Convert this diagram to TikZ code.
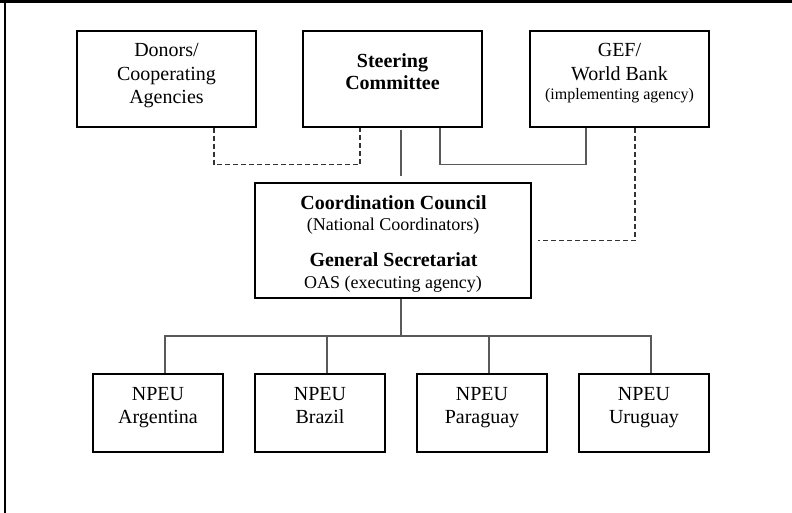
\documentclass[tikz,border=0pt]{standalone}
\usepackage{fontspec}
\setmainfont{Liberation Serif}
\begin{document}
\begin{tikzpicture}[x=1pt,y=-1pt,
  box/.style={draw=black, line width=1.7pt, rectangle, inner sep=0pt},
  topbox/.style={box, minimum width=179pt, minimum height=96pt},
  npeubox/.style={box, minimum width=130pt, minimum height=78pt},
  lbl/.style={anchor=base, inner sep=0pt, font=\fontsize{20}{24}\selectfont},
  lblb/.style={lbl, font=\fontsize{20}{24}\selectfont\bfseries},
  lbls/.style={lbl, font=\fontsize{16}{19}\selectfont},
  lblm/.style={lbl, font=\fontsize{18}{21}\selectfont},
  conn/.style={draw=black!65, line width=1.3pt},
  dconn/.style={draw=black!80, line width=1.2pt, dash pattern=on 5pt off 3pt}]
\useasboundingbox (0,0) rectangle (792,513);
% frame (top and left only)
\draw[line width=3pt] (0,1.5) -- (792,1.5);
\draw[line width=2.5pt] (5,0) -- (5,513);
% top boxes
\node[topbox] (donors) at (166.5,79) {};
\node[topbox] (steer) at (392.5,79) {};
\node[topbox] (gef) at (619.5,79) {};
\node[lbl] (d1) at (166.5,57) {Donors/};
\node[lbl] (d2) at (166.5,80.5) {Cooperating};
\node[lbl] (d3) at (166.5,104) {Agencies};
\node[lblb] (s1) at (392.5,68) {Steering};
\node[lblb] (s2) at (392.5,90) {Committee};
\node[lbl] (g1) at (619.5,57) {GEF/};
\node[lbl] (g2) at (619.5,80.5) {World Bank};
\node[lbls] (g3) at (619.5,100) {(implementing agency)};
% coordination box
\node[box, minimum width=276pt, minimum height=115pt] (coord) at (393,240.5) {};
\node[lblb] (c1) at (393.5,209) {Coordination Council};
\node[lblm] (c2) at (393,230.5) {(National Coordinators)};
\node[lblb] (c3) at (393.5,266) {General Secretariat};
\node[lblm] (c4) at (393,288) {OAS (executing agency)};
% NPEU boxes
\node[npeubox] (arg) at (158,413) {};
\node[npeubox] (bra) at (320,413) {};
\node[npeubox] (par) at (482,413) {};
\node[npeubox] (uru) at (644,413) {};
\foreach \n/\c/\x in {arg/Argentina/158, bra/Brazil/320, par/Paraguay/482, uru/Uruguay/644}{
  \node[lbl] (\n t1) at (\x,400) {NPEU};
  \node[lbl] (\n t2) at (\x,423) {\c};
}
% connectors
\draw[dconn] ([xshift=47.5pt]donors.south) -- ++(0,37) -| ([xshift=-32.5pt]steer.south);
\draw[conn] ([xshift=47.5pt]steer.south) -- ++(0,37) -| ([xshift=-33.5pt]gef.south);
\draw[conn, shorten <=2pt, shorten >=6pt] ([xshift=8.5pt]steer.south) -- ([xshift=8.5pt]steer.south |- coord.north);
\draw[dconn, shorten >=6pt] ([xshift=15.5pt]gef.south) |- (coord.east);
\coordinate (bus) at (401,336);
\draw[conn] ([xshift=8pt]coord.south) -- (bus);
\draw[conn] ([xshift=7pt]arg.north) |- ([xshift=7pt]uru.north |- bus) -- ([xshift=7pt]uru.north);
\draw[conn] ([xshift=7pt]bra.north) -- ([xshift=7pt]bra.north |- bus);
\draw[conn] ([xshift=7pt]par.north) -- ([xshift=7pt]par.north |- bus);
\end{tikzpicture}
\end{document}
